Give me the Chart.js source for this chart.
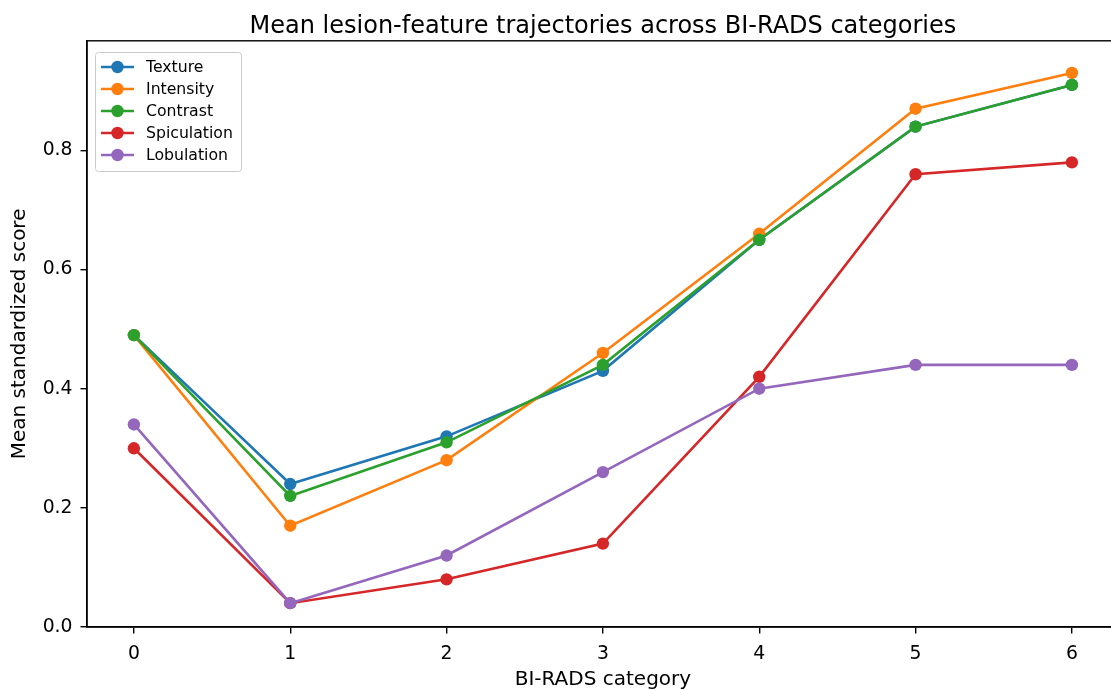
<!DOCTYPE html>
<html>
<head>
<meta charset="utf-8">
<script src="https://cdn.jsdelivr.net/npm/chart.js@4.4.0/dist/chart.umd.min.js"></script>
<style>
  html, body { margin: 0; padding: 0; background: #fff; overflow: hidden; }
  canvas { display: block; }
</style>
</head>
<body>
<canvas id="chart" width="1125" height="690"></canvas>
<script>
// data
const categories = [0, 1, 2, 3, 4, 5, 6];
const texture     = [0.49, 0.24, 0.32, 0.43, 0.65, 0.84, 0.91];
const intensity   = [0.49, 0.17, 0.28, 0.46, 0.66, 0.87, 0.93];
const contrast    = [0.49, 0.22, 0.31, 0.44, 0.65, 0.84, 0.91];
const spiculation = [0.30, 0.04, 0.08, 0.14, 0.42, 0.76, 0.78];
const lobulation  = [0.34, 0.04, 0.12, 0.26, 0.40, 0.44, 0.44];
const seriesNames = ['Texture', 'Intensity', 'Contrast', 'Spiculation', 'Lobulation'];
const seriesColors = ['#1f77b4', '#ff7f0e', '#2ca02c', '#d62728', '#9467bd'];
const yTicks = [0.0, 0.2, 0.4, 0.6, 0.8];

const FONT = 'DejaVu Sans';
const allSeries = [texture, intensity, contrast, spiculation, lobulation];

const datasets = allSeries.map((vals, i) => ({
  label: seriesNames[i],
  data: categories.map((c, j) => ({ x: c, y: vals[j] })),
  borderColor: seriesColors[i],
  backgroundColor: seriesColors[i],
  borderWidth: 2.6,
  pointRadius: 6.2,
  pointHoverRadius: 6.2,
  pointBorderWidth: 0,
  tension: 0,
  order: allSeries.length - i, // later series on top, like matplotlib
}));

// box around the plot + legend in the upper left, matplotlib style
const framePlugin = {
  id: 'frame',
  afterDraw(chart) {
    const ctx = chart.ctx;
    const a = chart.chartArea;
    ctx.save();
    ctx.strokeStyle = '#000';
    ctx.lineWidth = 1.4;
    ctx.strokeRect(a.left, a.top, a.right - a.left, a.bottom - a.top);

    // legend
    const x0 = 95, y0 = 52, w = 146, h = 119;
    ctx.fillStyle = 'rgba(255,255,255,0.8)';
    ctx.strokeStyle = '#cccccc';
    ctx.lineWidth = 1;
    ctx.beginPath();
    ctx.roundRect(x0 + 0.5, y0 + 0.5, w, h, 3);
    ctx.fill();
    ctx.stroke();
    ctx.font = '15.7px "' + FONT + '"';
    ctx.textBaseline = 'middle';
    ctx.textAlign = 'left';
    seriesNames.forEach((name, i) => {
      const y = 67 + i * 22;
      ctx.strokeStyle = seriesColors[i];
      ctx.lineWidth = 2.6;
      ctx.beginPath();
      ctx.moveTo(101, y);
      ctx.lineTo(134, y);
      ctx.stroke();
      ctx.fillStyle = seriesColors[i];
      ctx.beginPath();
      ctx.arc(117.5, y, 6.2, 0, Math.PI * 2);
      ctx.fill();
      ctx.fillStyle = '#000';
      ctx.fillText(name, 146, y + 1);
    });
    ctx.restore();
  }
};

new Chart(document.getElementById('chart'), {
  type: 'line',
  data: { datasets },
  plugins: [framePlugin],
  options: {
    responsive: false,
    animation: false,
    devicePixelRatio: 1,
    layout: { padding: { left: 0, right: 3, top: 0, bottom: 0 } },
    plugins: {
      legend: { display: false },
      tooltip: { enabled: false },
      title: {
        display: true,
        fullSize: false,
        text: 'Mean lesion-feature trajectories across BI-RADS categories',
        color: '#000',
        font: { family: FONT, size: 24, weight: 'normal', lineHeight: 1.2 },
        padding: { top: 12, bottom: 0 },
      },
    },
    scales: {
      x: {
        type: 'linear',
        min: -0.3,
        max: 6.3,
        afterFit(scale) { scale.height = 63; },
        grid: { drawOnChartArea: false, drawTicks: true, tickLength: 6.5, color: '#000', lineWidth: 1.4 },
        border: { display: true, color: '#000', width: 1.4 },
        ticks: {
          stepSize: 1,
          includeBounds: false,
          color: '#000',
          padding: 9,
          font: { family: FONT, size: 18.8 },
          callback: (v) => categories.includes(v) ? String(v) : '',
        },
        title: {
          display: true,
          text: 'BI-RADS category',
          color: '#000',
          font: { family: FONT, size: 20, lineHeight: 1.0 },
          padding: { top: 0, bottom: 0 },
        },
      },
      y: {
        min: 0,
        max: 0.984,
        afterFit(scale) { scale.width = 87; },
        afterBuildTicks(scale) { scale.ticks = yTicks.map(v => ({ value: v })); },
        grid: { drawOnChartArea: false, drawTicks: true, tickLength: 6.5, color: '#000', lineWidth: 1.4 },
        border: { display: true, color: '#000', width: 1.4 },
        ticks: {
          color: '#000',
          padding: 8,
          font: { family: FONT, size: 18.8 },
          callback: (v) => v.toFixed(1),
        },
        title: {
          display: true,
          text: 'Mean standardized score',
          color: '#000',
          font: { family: FONT, size: 20, lineHeight: 1.2 },
          padding: { top: 8, bottom: 0 },
        },
      },
    },
  },
});
</script>
</body>
</html>
